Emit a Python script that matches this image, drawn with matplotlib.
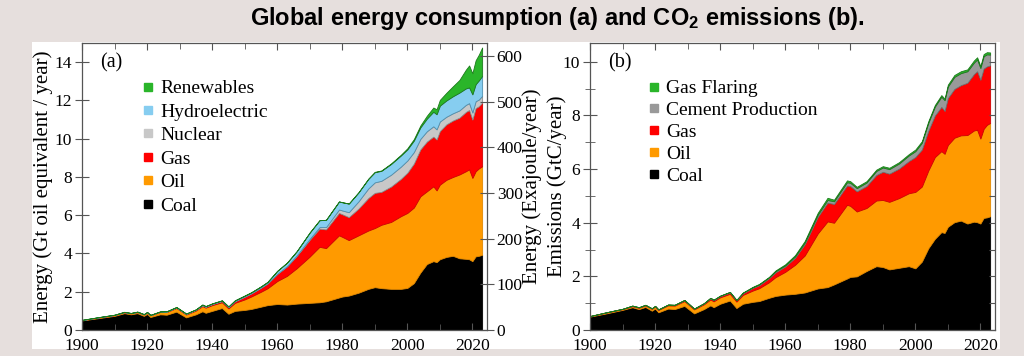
import matplotlib
matplotlib.use('Agg')
import matplotlib.pyplot as plt
from matplotlib.lines import Line2D
from matplotlib.patches import Rectangle
from matplotlib.ticker import MultipleLocator

# years (both panels share them)
years = [1900, 1905, 1910, 1913, 1915, 1917, 1919, 1920, 1921, 1924,
         1926, 1929, 1932, 1935, 1937, 1938, 1940, 1943, 1945, 1947,
         1950, 1952, 1955, 1957, 1960, 1963, 1966, 1970, 1973, 1975,
         1979, 1980, 1982, 1985, 1988, 1990, 1992, 1995, 1998, 2000,
         2002, 2004, 2006, 2008, 2009, 2010, 2012, 2014, 2016, 2018,
         2019, 2020, 2021, 2022, 2023]

# (a) energy consumption, Gt oil equivalent / year
coal_a = [0.50, 0.62, 0.74, 0.88, 0.82, 0.88, 0.74, 0.84, 0.68, 0.82,
          0.80, 0.96, 0.66, 0.82, 0.98, 0.90, 1.00, 1.15, 0.85, 1.00,
          1.05, 1.10, 1.22, 1.30, 1.36, 1.33, 1.38, 1.42, 1.45, 1.50,
          1.70, 1.75, 1.80, 1.95, 2.15, 2.24, 2.19, 2.15, 2.15, 2.20,
          2.45, 3.00, 3.45, 3.60, 3.55, 3.70, 3.82, 3.88, 3.75, 3.72,
          3.70, 3.60, 3.85, 3.88, 3.93]
oil_a = [0.02, 0.03, 0.04, 0.05, 0.05, 0.06, 0.07, 0.08, 0.09, 0.12,
         0.14, 0.19, 0.15, 0.20, 0.27, 0.27, 0.30, 0.30, 0.28, 0.42,
         0.55, 0.65, 0.78, 0.88, 1.20, 1.50, 1.85, 2.42, 2.90, 2.78,
         3.25, 3.12, 2.90, 3.00, 3.05, 3.09, 3.31, 3.50, 3.80, 3.92,
         3.95, 3.99, 3.80, 3.91, 3.75, 3.90, 4.03, 4.12, 4.38, 4.58,
         4.70, 4.35, 4.45, 4.57, 4.63]
gas_a = [0.00, 0.01, 0.01, 0.01, 0.01, 0.01, 0.01, 0.01, 0.01, 0.02,
         0.02, 0.03, 0.03, 0.04, 0.05, 0.05, 0.06, 0.07, 0.07, 0.09,
         0.15, 0.17, 0.22, 0.26, 0.38, 0.50, 0.65, 0.88, 0.95, 0.98,
         1.17, 1.18, 1.20, 1.40, 1.70, 1.84, 1.72, 1.85, 1.95, 2.10,
         2.30, 2.45, 2.60, 2.60, 2.66, 2.80, 2.90, 2.95, 2.97, 3.10,
         3.10, 3.05, 3.30, 3.25, 3.33]
nuclear_a = [0, 0, 0, 0, 0, 0, 0, 0, 0, 0,
             0, 0, 0, 0, 0, 0, 0, 0, 0, 0,
             0, 0, 0, 0, 0, 0.01, 0.02, 0.05, 0.08, 0.12,
             0.18, 0.20, 0.26, 0.38, 0.50, 0.55, 0.58, 0.62, 0.64, 0.64,
             0.60, 0.55, 0.54, 0.54, 0.53, 0.50, 0.40, 0.38, 0.38, 0.37,
             0.36, 0.37, 0.36, 0.35, 0.35]
hydro_a = [0.01, 0.01, 0.01, 0.01, 0.01, 0.01, 0.01, 0.01, 0.01, 0.01,
           0.02, 0.02, 0.02, 0.02, 0.03, 0.03, 0.03, 0.03, 0.03, 0.04,
           0.05, 0.05, 0.06, 0.07, 0.15, 0.18, 0.22, 0.33, 0.36, 0.38,
           0.42, 0.43, 0.45, 0.47, 0.50, 0.53, 0.52, 0.56, 0.58, 0.58,
           0.60, 0.60, 0.66, 0.76, 0.79, 0.83, 0.85, 0.89, 0.93, 0.86,
           0.82, 0.95, 0.89, 1.00, 1.04]
renew_a = [0, 0, 0, 0, 0, 0, 0, 0, 0, 0,
           0, 0, 0, 0, 0, 0, 0, 0, 0, 0,
           0, 0, 0, 0, 0, 0, 0, 0, 0, 0,
           0, 0, 0, 0, 0.01, 0.02, 0.02, 0.03, 0.04, 0.06,
           0.08, 0.10, 0.15, 0.22, 0.26, 0.30, 0.40, 0.52, 0.66, 0.98,
           1.15, 1.10, 1.25, 1.35, 1.49]

# (b) CO2 emissions, GtC / year
coal_b = [0.50, 0.62, 0.75, 0.85, 0.78, 0.86, 0.72, 0.80, 0.66, 0.80,
          0.78, 0.90, 0.62, 0.78, 0.92, 0.85, 0.98, 1.10, 0.82, 0.98,
          1.05, 1.08, 1.20, 1.27, 1.32, 1.35, 1.40, 1.55, 1.60, 1.70,
          1.92, 1.98, 2.00, 2.20, 2.38, 2.35, 2.26, 2.32, 2.38, 2.30,
          2.55, 3.05, 3.40, 3.65, 3.62, 3.85, 4.02, 4.08, 3.97, 4.04,
          4.02, 3.97, 4.18, 4.20, 4.24]
oil_b = [0.02, 0.03, 0.03, 0.04, 0.05, 0.06, 0.07, 0.08, 0.09, 0.12,
         0.13, 0.18, 0.15, 0.18, 0.22, 0.22, 0.24, 0.25, 0.24, 0.33,
         0.42, 0.48, 0.58, 0.70, 0.85, 1.08, 1.38, 2.05, 2.45, 2.30,
         2.75, 2.65, 2.42, 2.35, 2.45, 2.50, 2.52, 2.60, 2.72, 2.85,
         2.80, 2.90, 3.05, 3.02, 2.95, 3.05, 3.15, 3.18, 3.30, 3.40,
         3.45, 3.17, 3.32, 3.45, 3.48]
gas_b = [0.00, 0.01, 0.01, 0.01, 0.01, 0.01, 0.01, 0.01, 0.01, 0.02,
         0.02, 0.03, 0.02, 0.03, 0.04, 0.04, 0.04, 0.05, 0.05, 0.06,
         0.10, 0.11, 0.15, 0.18, 0.20, 0.26, 0.42, 0.62, 0.70, 0.70,
         0.72, 0.74, 0.75, 0.82, 0.95, 1.05, 1.05, 1.10, 1.20, 1.30,
         1.38, 1.48, 1.55, 1.65, 1.60, 1.75, 1.82, 1.87, 1.95, 2.10,
         2.18, 2.19, 2.25, 2.18, 2.15]
cement_b = [0.00, 0.00, 0.00, 0.01, 0.01, 0.01, 0.01, 0.01, 0.01, 0.01,
            0.01, 0.01, 0.01, 0.01, 0.02, 0.02, 0.02, 0.02, 0.01, 0.02,
            0.02, 0.03, 0.03, 0.04, 0.04, 0.05, 0.06, 0.08, 0.10, 0.10,
            0.12, 0.12, 0.12, 0.13, 0.15, 0.16, 0.17, 0.19, 0.21, 0.22,
            0.25, 0.30, 0.33, 0.38, 0.40, 0.43, 0.45, 0.45, 0.43, 0.43,
            0.44, 0.44, 0.46, 0.45, 0.40]
flaring_b = [0, 0, 0, 0, 0, 0, 0, 0, 0, 0,
             0, 0, 0, 0, 0, 0, 0, 0, 0, 0.01,
             0.02, 0.02, 0.02, 0.03, 0.04, 0.05, 0.06, 0.07, 0.08, 0.06,
             0.07, 0.06, 0.05, 0.05, 0.05, 0.05, 0.05, 0.05, 0.05, 0.06,
             0.06, 0.06, 0.06, 0.06, 0.06, 0.07, 0.07, 0.07, 0.07, 0.08,
             0.08, 0.07, 0.08, 0.08, 0.08]

labels_a = ['Coal', 'Oil', 'Gas', 'Nuclear', 'Hydroelectric', 'Renewables']
colors_a = ['black', '#ff9a00', '#ff0000', '#c8c8c8', '#86cdf0', '#2ab52a']
edges_a = ['black', '#e08800', '#d00000', '#8a8a8a', '#4f8fae', '#1b7a1b']
labels_b = ['Coal', 'Oil', 'Gas', 'Cement Production', 'Gas Flaring']
colors_b = ['black', '#ff9a00', '#ff0000', '#999999', '#2ab52a']
edges_b = ['black', '#e08800', '#d00000', '#6f6f6f', '#1b7a1b']

EJ_PER_GTOE = 41.868

plt.rcParams['font.family'] = 'Liberation Serif'
plt.rcParams['mathtext.fontset'] = 'custom'
plt.rcParams['mathtext.rm'] = 'Liberation Sans:bold'
plt.rcParams['mathtext.default'] = 'rm'

fig = plt.figure(figsize=(10.24, 3.56), dpi=100, facecolor='#e6dfdd')
fig.patches.append(Rectangle((0.03125, 0.0197), 0.9453, 0.862, transform=fig.transFigure,
                             facecolor='white', edgecolor='none', zorder=-10))

fig.text(0.544, 0.949, 'Global energy consumption (a) and CO$_2$ emissions (b).',
         ha='center', va='center', fontsize=17, family='Liberation Sans', weight='bold')

ax_a = fig.add_axes([0.0801, 0.0730, 0.3955, 0.806])
ax_b = fig.add_axes([0.5762, 0.0730, 0.3955, 0.806])

spine_col = '#555555'


def base_style(ax):
    ax.set_xlim(1900, 2024.5)
    ax.xaxis.set_major_locator(MultipleLocator(20))
    ax.xaxis.set_minor_locator(MultipleLocator(10))
    ax.tick_params(axis='x', which='both', direction='in', top=True, bottom=True,
                   labelsize=12.5, pad=6, color=spine_col)
    ax.tick_params(axis='x', which='major', length=5)
    ax.tick_params(axis='x', which='minor', length=4)
    ax.tick_params(axis='y', which='both', direction='inout', labelsize=12.5, pad=2,
                   color=spine_col)
    ax.tick_params(axis='y', which='major', length=10)
    ax.tick_params(axis='y', which='minor', length=7)
    for s in ax.spines.values():
        s.set_color(spine_col)
        s.set_linewidth(0.9)


# ---- panel (a)
polys = ax_a.stackplot(years, coal_a, oil_a, gas_a, nuclear_a, hydro_a, renew_a,
                       colors=colors_a, linewidth=0.6)
for p, ec in zip(polys, edges_a):
    p.set_edgecolor(ec)
base_style(ax_a)
ax_a.set_ylim(0, 15)
ax_a.yaxis.set_major_locator(MultipleLocator(2))
ax_a.set_ylabel('Energy (Gt oil equivalent / year)', fontsize=15)
ax_a.yaxis.set_label_coords(-0.072, 0.5)
ax_a.text(0.072, 0.93, '(a)', transform=ax_a.transAxes, fontsize=14.5, ha='center', va='center')

ax_ej = ax_a.twinx()
ax_ej.set_ylim(0, 15 * EJ_PER_GTOE)
ax_ej.yaxis.set_major_locator(MultipleLocator(100))
ax_ej.tick_params(axis='y', direction='inout', length=10, labelsize=12.5, pad=2, color=spine_col)
ax_ej.set_ylabel('Energy (Exajoule/year)', fontsize=15)
ax_ej.yaxis.set_label_coords(1.088, 0.5)
for s in ax_ej.spines.values():
    s.set_visible(False)

hand_a = [Line2D([], [], marker='s', linestyle='none', markersize=6, color=c)
          for c in colors_a[::-1]]
ax_a.legend(hand_a, labels_a[::-1], loc='upper left', bbox_to_anchor=(0.148, 0.872),
            frameon=False, fontsize=14, handlelength=0.6, handletextpad=0.35,
            labelspacing=0.3, borderpad=0, borderaxespad=0)

# ---- panel (b)
polys = ax_b.stackplot(years, coal_b, oil_b, gas_b, cement_b, flaring_b,
                       colors=colors_b, linewidth=0.6)
for p, ec in zip(polys, edges_b):
    p.set_edgecolor(ec)
base_style(ax_b)
ax_b.set_ylim(0, 10.7)
ax_b.yaxis.set_major_locator(MultipleLocator(2))
ax_b.yaxis.set_minor_locator(MultipleLocator(1))
ax_b.set_ylabel('Emissions (GtC/year)', fontsize=15)
ax_b.yaxis.set_label_coords(-0.058, 0.5)
ax_b.text(0.074, 0.93, '(b)', transform=ax_b.transAxes, fontsize=14.5, ha='center', va='center')

# inward ticks on the right spine
ax_r = ax_b.twinx()
ax_r.set_ylim(0, 10.7)
ax_r.yaxis.set_major_locator(MultipleLocator(1))
ax_r.tick_params(axis='y', direction='in', length=4, labelright=False, color=spine_col)
for s in ax_r.spines.values():
    s.set_visible(False)

hand_b = [Line2D([], [], marker='s', linestyle='none', markersize=6, color=c)
          for c in colors_b[::-1]]
ax_b.legend(hand_b, labels_b[::-1], loc='upper left', bbox_to_anchor=(0.143, 0.872),
            frameon=False, fontsize=14, handlelength=0.6, handletextpad=0.35,
            labelspacing=0.22, borderpad=0, borderaxespad=0)

fig.savefig('out.png', dpi=100, facecolor=fig.get_facecolor())
